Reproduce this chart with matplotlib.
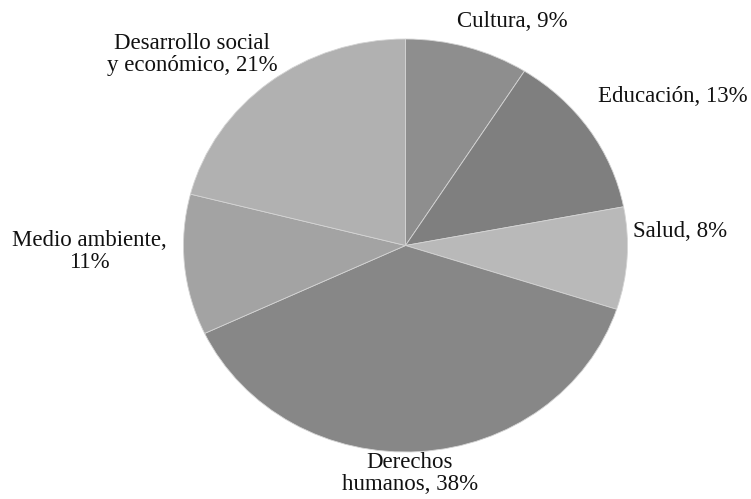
import matplotlib
matplotlib.use("Agg")
import matplotlib.pyplot as plt

categories = ["Cultura", "Educación", "Salud", "Derechos\nhumanos",
              "Medio ambiente,\n", "Desarrollo social\ny económico"]
values = [9, 13, 8, 38, 11, 21]
colors = ["#8e8e8e", "#7f7f7f", "#b9b9b9", "#878787", "#a3a3a3", "#b1b1b1"]

plt.rcParams['font.family'] = ['Liberation Serif', 'DejaVu Serif']

fig = plt.figure(figsize=(7.51, 4.99), dpi=100)
W, H = 751, 499
cx, cy, rx, ry = 405.5, 245.5, 222, 206.5
ax = fig.add_axes([(cx - rx) / W, (H - cy - ry) / H, 2 * rx / W, 2 * ry / H])
ax.pie(values, colors=colors, startangle=90, counterclock=False,
       wedgeprops=dict(edgecolor="#d4d4d4", linewidth=0.6))
ax.set_aspect('auto')
ax.set_xlim(-1, 1)
ax.set_ylim(-1, 1)
ax.axis('off')

label_texts = [
    f"Cultura, {values[0]}%",
    f"Educación, {values[1]}%",
    f"Salud, {values[2]}%",
    f"Derechos\nhumanos, {values[3]}%",
    f"Medio ambiente,\n{values[4]}%",
    f"Desarrollo social\ny económico, {values[5]}%",
]
label_pos = [(0.479, 1.083), (1.202, 0.723), (1.238, 0.068),
             (0.02, -1.105), (-1.422, -0.029), (-0.96, 0.925)]
for t, (x, y) in zip(label_texts, label_pos):
    ax.text(x, y, t, ha='center', va='center', multialignment='center',
            fontsize=16.5, color='#111111', clip_on=False, linespacing=1.05)

fig.savefig("out.png", dpi=100, facecolor='white')
